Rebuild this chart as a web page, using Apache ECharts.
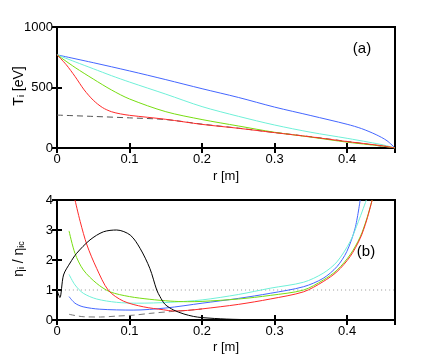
<!DOCTYPE html>
<html lang="en">
<head>
    <meta charset="UTF-8">
    <title>Ti profiles</title>
    <script src="https://cdn.jsdelivr.net/npm/echarts@6/dist/echarts.min.js"></script>
    <style>
        html, body { margin: 0; padding: 0; background: #fff; }
    </style>
</head>
<body>
<div id="main" style="width: 436px;height:364px;"></div>

<script type="text/javascript">
    // axis ticks
    var rTicks = [0, 0.1, 0.2, 0.3, 0.4];
    var rMax = 0.466;
    var tiTicks = [0, 500, 1000];
    var etaTicks = [0, 1, 2, 3, 4];

    // (a) T_i [eV]
    var rTop = [0, 0.025, 0.05, 0.075, 0.1, 0.15, 0.2, 0.25, 0.3, 0.35, 0.4, 0.43, 0.45, 0.466];
    var tiCyan = [770, 712, 655, 598, 545, 445, 342, 262, 190, 130, 80, 48, 25, 0];
    var tiGreen = [770, 665, 570, 480, 405, 300, 235, 182, 130, 90, 48, 28, 15, 0];
    var rBlueA = [0, 0.05, 0.1, 0.15, 0.2, 0.25, 0.3, 0.35, 0.4, 0.42, 0.44, 0.455, 0.466];
    var tiBlue = [770, 705, 637, 565, 490, 418, 338, 268, 196, 160, 110, 60, 0];
    var rRedA = [0, 0.0125, 0.025, 0.0375, 0.05, 0.0625, 0.075, 0.0875, 0.1, 0.15, 0.2, 0.25, 0.3, 0.35, 0.4, 0.43, 0.45, 0.466];
    var tiRed = [770, 690, 590, 480, 395, 335, 300, 282, 270, 237, 195, 163, 127, 92, 53, 32, 17, 0];
    var rDashA = [0, 0.05, 0.1, 0.15, 0.2, 0.25, 0.3, 0.35, 0.4, 0.466];
    var tiDash = [272, 261, 249, 235, 197, 164, 128, 93, 54, 0];

    // (b) eta_i / eta_ic
    var rBlack = [0, 0.004, 0.009, 0.018, 0.027, 0.0455, 0.064, 0.0823, 0.101, 0.1145, 0.128, 0.1375, 0.142, 0.149, 0.161, 0.175, 0.188, 0.2, 0.234, 0.27, 0.33];
    var etaBlack = [1.0, 0.75, 1.5, 1.9, 2.22, 2.67, 2.94, 3.0, 2.83, 2.39, 1.72, 1.0, 0.78, 0.52, 0.33, 0.2, 0.12, 0.08, 0.03, 0.01, 0];
    var rRedB = [0.0248, 0.032, 0.0413, 0.0547, 0.0708, 0.0915, 0.119, 0.147, 0.161, 0.18, 0.2, 0.25, 0.294, 0.34, 0.367, 0.386, 0.404, 0.418, 0.427, 0.4345];
    var etaRed = [4, 3.28, 2.5, 1.72, 0.99, 0.63, 0.44, 0.34, 0.3, 0.32, 0.37, 0.52, 0.7, 0.94, 1.28, 1.61, 2.11, 2.72, 3.33, 4];
    var rGreenB = [0.0166, 0.0248, 0.0363, 0.0547, 0.073, 0.1, 0.128, 0.156, 0.18, 0.2, 0.25, 0.294, 0.34, 0.367, 0.386, 0.404, 0.418, 0.427, 0.4345];
    var etaGreen = [2.97, 2.22, 1.67, 1.22, 0.94, 0.78, 0.69, 0.63, 0.61, 0.62, 0.7, 0.82, 1.0, 1.33, 1.66, 2.17, 2.77, 3.37, 4];
    var rCyanB = [0.0166, 0.0248, 0.0363, 0.0547, 0.082, 0.11, 0.156, 0.2, 0.25, 0.294, 0.34, 0.367, 0.386, 0.404, 0.4155, 0.4265];
    var etaCyan = [1.52, 1.17, 0.89, 0.7, 0.59, 0.56, 0.59, 0.67, 0.85, 1.06, 1.26, 1.56, 1.94, 2.61, 3.28, 4];
    var rBlueB = [0.0166, 0.0248, 0.036, 0.059, 0.105, 0.15, 0.2, 0.25, 0.294, 0.34, 0.367, 0.386, 0.3995, 0.411, 0.418];
    var etaBlue = [0.78, 0.56, 0.44, 0.36, 0.33, 0.4, 0.56, 0.72, 0.89, 1.11, 1.39, 1.78, 2.28, 3.06, 4];
    var rDashB = [0.0166, 0.036, 0.06, 0.082, 0.105, 0.128, 0.156, 0.18, 0.2];
    var etaDash = [0.19, 0.11, 0.1, 0.13, 0.16, 0.22, 0.28, 0.32, 0.37];
    var etaRef = 1;

    var colBlue = '#4466ff', colCyan = '#6ff0d8', colGreen = '#77dd11', colRed = '#ff2a2a';
    var font = "'Liberation Sans', Arial, sans-serif";

    function zip(xs, ys) {
        return xs.map(function (x, i) { return [x, ys[i]]; });
    }

    function line(name, xs, ys, color, axis, type) {
        return {
            name: name, type: 'line', xAxisIndex: axis, yAxisIndex: axis,
            data: zip(xs, ys), showSymbol: false, smooth: 0.3,
            clip: true, silent: true,
            lineStyle: {color: color, width: 1, type: type || 'solid'}
        };
    }

    function tenths(v) {
        return Math.abs(v * 10 - Math.round(v * 10)) < 1e-6 ? String(+v.toFixed(1)) : '';
    }

    function xAx(grid, pos) {
        return {
            gridIndex: grid, type: 'value', position: pos, min: rTicks[0], max: rMax, interval: 0.1,
            axisLine: {show: false},
            axisTick: {inside: true, length: 5, lineStyle: {color: '#000', width: 2}},
            splitLine: {show: false},
            axisLabel: {show: pos === 'bottom', margin: 5, color: '#000', fontSize: 13, fontFamily: font, formatter: tenths}
        };
    }

    function yAx(grid, pos, ticks) {
        return {
            gridIndex: grid, type: 'value', position: pos, min: ticks[0], max: ticks[ticks.length - 1],
            interval: ticks[1] - ticks[0],
            axisLine: {show: false},
            axisTick: {inside: true, length: 5, lineStyle: {color: '#000', width: 2}},
            splitLine: {show: false},
            axisLabel: {show: pos === 'left', margin: 4, color: '#000', fontSize: 13, fontFamily: font,
                formatter: function (v) { return String(v); }}
        };
    }

    var chart = echarts.init(document.getElementById('main'));
    var option = {
        animation: false,
        backgroundColor: '#fff',
        grid: [
            {left: 57, top: 27, width: 338, height: 121, show: true, borderColor: '#000', borderWidth: 2, backgroundColor: 'transparent'},
            {left: 57, top: 200, width: 338, height: 120, show: true, borderColor: '#000', borderWidth: 2, backgroundColor: 'transparent'}
        ],
        xAxis: [xAx(0, 'bottom'), xAx(0, 'top'), xAx(1, 'bottom'), xAx(1, 'top')],
        yAxis: [yAx(0, 'left', tiTicks), yAx(0, 'right', tiTicks), yAx(1, 'left', etaTicks), yAx(1, 'right', etaTicks)],
        series: [
            line('dashA', rDashA, tiDash, '#555', 0, [6, 4]),
            line('blueA', rBlueA, tiBlue, colBlue, 0),
            line('cyanA', rTop, tiCyan, colCyan, 0),
            line('greenA', rTop, tiGreen, colGreen, 0),
            line('redA', rRedA, tiRed, colRed, 0),
            line('ref', [0, rMax], [etaRef, etaRef], '#999', 2, [1, 3]),
            line('dashB', rDashB, etaDash, '#777', 2, [6, 4]),
            line('blueB', rBlueB, etaBlue, colBlue, 2),
            line('cyanB', rCyanB, etaCyan, colCyan, 2),
            line('greenB', rGreenB, etaGreen, colGreen, 2),
            line('redB', rRedB, etaRed, colRed, 2),
            line('blackB', rBlack, etaBlack, '#000', 2)
        ],
        graphic: [
            {type: 'text', x: 362, y: 49, style: {text: '(a)', fontSize: 15, fontFamily: font, fill: '#000', align: 'center', verticalAlign: 'middle'}},
            {type: 'text', x: 366, y: 252, style: {text: '(b)', fontSize: 15, fontFamily: font, fill: '#000', align: 'center', verticalAlign: 'middle'}},
            {type: 'text', x: 226, y: 176, style: {text: 'r [m]', fontSize: 13, fontFamily: font, fill: '#000', align: 'center', verticalAlign: 'middle'}},
            {type: 'text', x: 226, y: 347, style: {text: 'r [m]', fontSize: 13, fontFamily: font, fill: '#000', align: 'center', verticalAlign: 'middle'}},
            {
                type: 'text', x: 17, y: 86, rotation: Math.PI / 2,
                style: {
                    text: '{n|T}{s|i}{n| [eV]}', align: 'center', verticalAlign: 'middle', fill: '#000',
                    rich: {
                        n: {fontSize: 14, fontFamily: font, lineHeight: 18, verticalAlign: 'bottom'},
                        s: {fontSize: 9, fontFamily: font, lineHeight: 10, verticalAlign: 'bottom'}
                    }
                }
            },
            {
                type: 'text', x: 17, y: 259, rotation: Math.PI / 2,
                style: {
                    text: '{n|η}{s|i}{n| / η}{s|ic}', align: 'center', verticalAlign: 'middle', fill: '#000',
                    rich: {
                        n: {fontSize: 14, fontFamily: font, lineHeight: 18, verticalAlign: 'bottom'},
                        s: {fontSize: 9, fontFamily: font, lineHeight: 10, verticalAlign: 'bottom'}
                    }
                }
            }
        ]
    };
    chart.setOption(option);
</script>
</body>
</html>
